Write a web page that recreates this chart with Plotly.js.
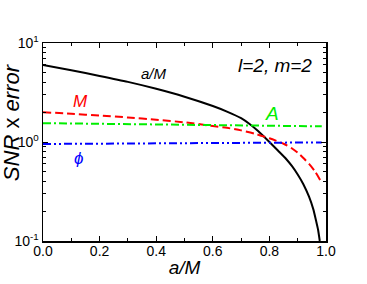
<!DOCTYPE html>
<html>
<head>
<meta charset="utf-8">
<script src="https://cdn.plot.ly/plotly-3.0.1.min.js"></script>
<style>html,body{margin:0;padding:0;background:#fff;}#chart{width:367px;height:284px;}</style>
</head>
<body>
<div id="chart"></div>
<script>
// a/M curve (black)
var aSpin = [0, 0.1, 0.2, 0.3, 0.4, 0.5, 0.6, 0.65, 0.7, 0.73, 0.76, 0.8, 0.83, 0.86, 0.88, 0.9, 0.92, 0.94, 0.955, 0.965, 0.972, 0.978];
var errSpin = [6.0, 5.3, 4.65, 4.05, 3.45, 2.87, 2.31, 2.03, 1.74, 1.52, 1.29, 1.0, 0.82, 0.67, 0.57, 0.47, 0.375, 0.28, 0.21, 0.16, 0.13, 0.10];
// M curve (red)
var aMass = [0, 0.1, 0.2, 0.3, 0.4, 0.5, 0.6, 0.65, 0.7, 0.75, 0.8, 0.85, 0.88, 0.9, 0.92, 0.94, 0.96, 0.98];
var errMass = [2.0, 1.93, 1.85, 1.77, 1.68, 1.58, 1.45, 1.39, 1.31, 1.21, 1.09, 0.96, 0.86, 0.78, 0.69, 0.60, 0.51, 0.41];
// A curve (green)
var aAmp = [0, 0.1, 0.2, 0.3, 0.4, 0.5, 0.6, 0.7, 0.8, 0.9, 0.985];
var errAmp = [1.55, 1.54, 1.53, 1.52, 1.51, 1.50, 1.49, 1.48, 1.46, 1.45, 1.44];
// phi curve (blue)
var aPhase = [0, 0.1, 0.2, 0.3, 0.4, 0.5, 0.6, 0.7, 0.8, 0.9, 0.985];
var errPhase = [0.955, 0.96, 0.965, 0.97, 0.975, 0.978, 0.982, 0.985, 0.988, 0.99, 0.99];

var yTickVals = [0.1, 1, 10];
var yTickText = ['10<sup>-1</sup>', '10<sup>0</sup>', '10<sup>1</sup>'];
var yMinorVals = [0.2, 0.3, 0.4, 0.5, 0.6, 0.7, 0.8, 0.9, 2, 3, 4, 5, 6, 7, 8, 9];

var FONT = 'Liberation Sans, Arial, Helvetica, sans-serif';

var traces = [
  {x: aSpin, y: errSpin, mode: 'lines', line: {color: '#000000', width: 2, shape: 'spline', smoothing: 0.6}, hoverinfo: 'none'},
  {x: aMass, y: errMass, mode: 'lines', line: {color: '#ff0000', width: 2, dash: '8px,4px', shape: 'spline', smoothing: 0.6}, hoverinfo: 'none'},
  {x: aAmp, y: errAmp, mode: 'lines', line: {color: '#00ee00', width: 2, dash: '8px,3px,2px,3px'}, hoverinfo: 'none'},
  {x: aPhase, y: errPhase, mode: 'lines', line: {color: '#0000ff', width: 2, dash: '8px,3px,2px,3px,2px,3px'}, hoverinfo: 'none'}
];

var layout = {
  width: 367, height: 284,
  margin: {l: 43, r: 41, t: 43, b: 43, pad: 0},
  paper_bgcolor: '#ffffff', plot_bgcolor: '#ffffff',
  showlegend: false,
  font: {family: FONT, size: 14, color: '#000'},
  xaxis: {
    range: [0, 1], dtick: 0.2, tick0: 0, tickformat: '.1f',
    ticks: 'inside', ticklen: 5, tickwidth: 1, tickcolor: '#000',
    minor: {dtick: 0.1, tick0: 0, ticks: 'inside', ticklen: 3, tickcolor: '#000'},
    showline: true, linecolor: '#000', linewidth: 1.5, mirror: 'ticks',
    showgrid: false, zeroline: false, ticklabelstandoff: -3,
    tickfont: {family: FONT, size: 14, color: '#000'},
    title: {text: '<i>a/M</i>', font: {family: FONT, size: 19, color: '#000'}, standoff: 2}
  },
  yaxis: {
    type: 'log', range: [-1, 1],
    tickmode: 'array', tickvals: yTickVals, ticktext: yTickText,
    ticks: 'inside', ticklen: 5, tickwidth: 1, tickcolor: '#000',
    minor: {tickmode: 'array', tickvals: yMinorVals, ticks: 'inside', ticklen: 3, tickcolor: '#000'},
    showline: true, linecolor: '#000', linewidth: 1.5, mirror: 'ticks',
    showgrid: false, zeroline: false,
    tickfont: {family: FONT, size: 14, color: '#000'}
  },
  annotations: [
    {text: '<i>SNR</i> x <i>error</i>', xref: 'paper', yref: 'paper', x: -0.111, y: 0.598,
     textangle: -90, showarrow: false, xanchor: 'center', yanchor: 'middle',
     font: {family: FONT, size: 22, color: '#000'}},
    {text: '<i>a/M</i>', x: 0.392, y: Math.log10(4.94), showarrow: false,
     font: {family: FONT, size: 15, color: '#000'}},
    {text: '<i>l=2, m=2</i>', x: 0.82, y: Math.log10(5.87), showarrow: false,
     font: {family: FONT, size: 19, color: '#000'}},
    {text: '<i>M</i>', x: 0.1325, y: Math.log10(2.57), showarrow: false,
     font: {family: FONT, size: 17, color: '#ff0000'}},
    {text: '<i>A</i>', x: 0.809, y: Math.log10(1.93), showarrow: false,
     font: {family: FONT, size: 19, color: '#00ee00'}},
    {text: '<i>\u03d5</i>', x: 0.124, y: Math.log10(0.687), showarrow: false,
     font: {family: FONT, size: 17, color: '#0000ff'}}
  ]
};

Plotly.newPlot('chart', traces, layout, {staticPlot: true, displayModeBar: false});
</script>
</body>
</html>
